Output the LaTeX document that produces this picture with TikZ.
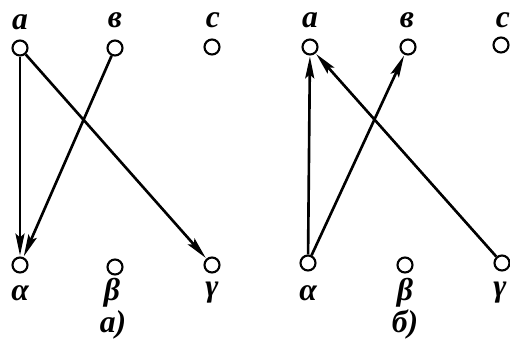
\documentclass[tikz,border=0pt]{standalone}
\usepackage{fontspec}
\setmainfont{Liberation Serif}
\usetikzlibrary{arrows.meta,positioning}
\tikzset{
  >={Stealth[length=4.4mm,width=1.8mm,inset=0.8mm]},
  vert/.style={circle,draw,line width=1.2pt,fill=white,minimum size=3mm,inner sep=0pt},
  lbl/.style={font=\fontsize{18}{21}\selectfont\bfseries\itshape,inner sep=0pt},
  arc/.style={->,line width=1.5pt,shorten >=0.5pt},
}
\begin{document}
\begin{tikzpicture}[x=0.02cm,y=-0.02cm]
  \useasboundingbox (0,0) rectangle (510,343);
  % left panel
  \node[vert] (a1) at (20,48) {};
  \node[vert] (v1) at (115,48) {};
  \node[vert] (c1) at (212,47) {};
  \node[vert] (al1) at (20,265) {};
  \node[vert] (be1) at (115,267) {};
  \node[vert] (ga1) at (212,265) {};
  \node[lbl] at (20,22) {a};
  \node[lbl] at (115,20) {в};
  \node[lbl] at (213,20) {c};
  \node[lbl] at (20,293) {α};
  \node[lbl] at (112,293) {β};
  \node[lbl] at (212,293) {γ};
  \node[lbl] (capa) at (113,325) {а)};
  \draw[arc] (a1) -- (al1);
  \draw[arc] (v1) -- (al1);
  \draw[arc] (a1) -- (ga1);
  % right panel
  \node[vert] (a2) at (310,47) {};
  \node[vert] (v2) at (408,47) {};
  \node[vert] (c2) at (501,45) {};
  \node[vert] (al2) at (308,263) {};
  \node[vert] (be2) at (405,265) {};
  \node[vert] (ga2) at (502,263) {};
  \node[lbl] at (310,20) {a};
  \node[lbl] at (407,20) {в};
  \node[lbl] at (503,20) {c};
  \node[lbl] at (308,293) {α};
  \node[lbl] at (405,293) {β};
  \node[lbl] at (500,293) {γ};
  \node[lbl] (capb) at (405,325) {б)};
  \draw[arc] (al2) -- (a2);
  \draw[arc] (al2) -- (v2);
  \draw[arc] (ga2) -- (a2);
\end{tikzpicture}
\end{document}
